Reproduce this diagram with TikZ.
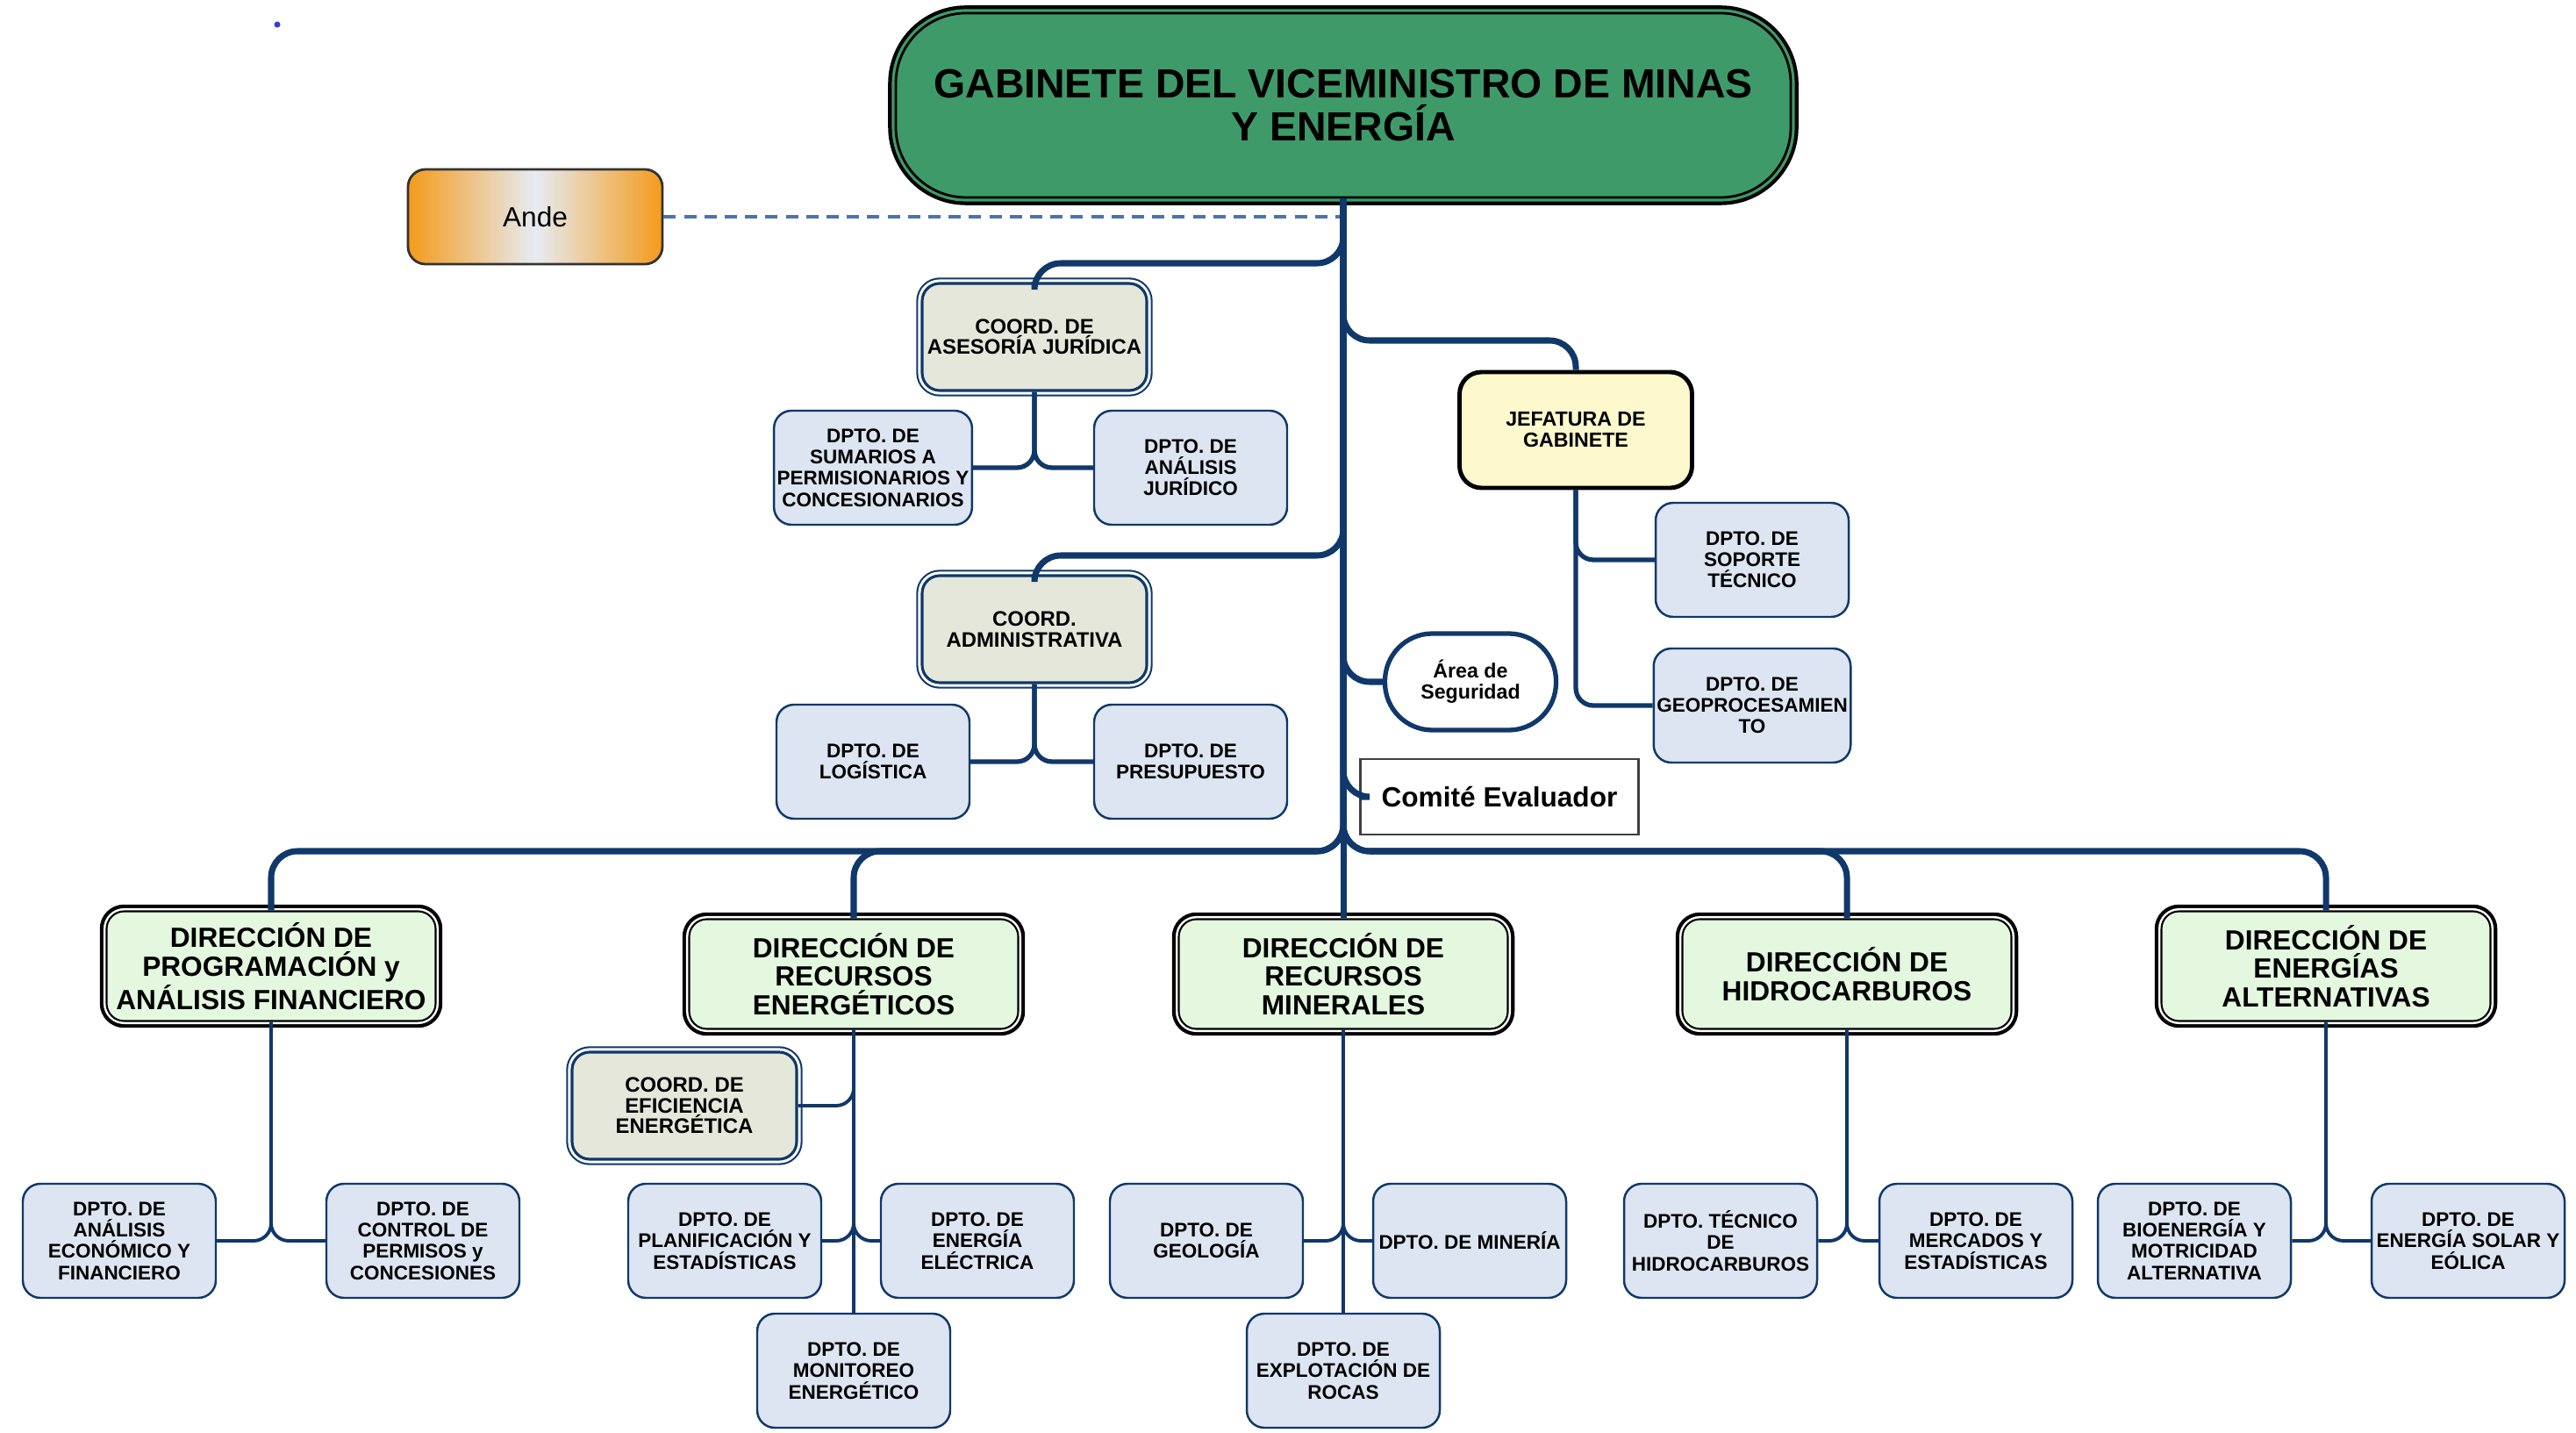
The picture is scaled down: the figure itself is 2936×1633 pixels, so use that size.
\documentclass[tikz,border=0pt]{standalone}
\usepackage{fontspec}
\setmainfont{Liberation Sans}
\definecolor{linenavy}{HTML}{10386A}
\definecolor{titlegreen}{HTML}{3F9A69}
\definecolor{dirfill}{HTML}{E3F8DF}
\definecolor{dptofill}{HTML}{DCE5F1}
\definecolor{coordfill}{HTML}{E5E7DA}
\definecolor{jeffill}{HTML}{FDF9CC}
\definecolor{andeorange}{HTML}{F49B1C}
\definecolor{andemid}{HTML}{E6ECF3}
\definecolor{dashblue}{HTML}{4C72AD}
\definecolor{dotblue}{HTML}{3A3AD8}
\begin{document}
\begin{tikzpicture}[x=0.1mm,y=-0.1mm]
    \tikzstyle{titlebox}=[rectangle, rounded corners=8mm, draw=black, line width=0.8pt, fill=titlegreen,
        minimum width=102mm, minimum height=21mm, align=center, font=\fontsize{13.2}{14}\selectfont\bfseries,
        preaction={draw=black, line width=5pt}, preaction={draw=titlegreen, line width=2.6pt}]
    \tikzstyle{dirbox}=[rectangle, rounded corners=2mm, draw=black, line width=0.6pt, fill=dirfill,
        minimum width=37.5mm, minimum height=12.5mm, inner sep=1pt, align=center, font=\fontsize{9}{9.3}\selectfont\bfseries,
        preaction={draw=black, line width=4.4pt}, preaction={draw=white, line width=2pt}]
    \tikzstyle{coordbox}=[rectangle, rounded corners=2mm, draw=linenavy, line width=0.9pt, fill=coordfill,
        minimum width=25.6mm, minimum height=12.2mm, inner sep=1pt, align=center, font=\fontsize{6.8}{6.7}\selectfont\bfseries,
        preaction={draw=linenavy, line width=3.8pt}, preaction={draw=white, line width=2.6pt}]
    \tikzstyle{dptobox}=[rectangle, rounded corners=2mm, draw=linenavy, line width=0.7pt, fill=dptofill,
        minimum width=22mm, minimum height=13mm, inner sep=1pt, align=center, font=\fontsize{6.4}{6.9}\selectfont\bfseries]
    \tikzstyle{jefebox}=[rectangle, rounded corners=2.5mm, draw=black, line width=1.4pt, fill=jeffill,
        minimum width=26.5mm, minimum height=13.2mm, align=center, font=\fontsize{6.6}{6.9}\selectfont\bfseries]
    \tikzstyle{segbox}=[rectangle, rounded corners=5.4mm, draw=linenavy, line width=1.5pt, fill=white,
        minimum width=19.5mm, minimum height=11mm, align=center, font=\fontsize{6.6}{6.9}\selectfont\bfseries]
    \tikzstyle{comitebox}=[rectangle, draw=black!75, line width=0.7pt, fill=white,
        minimum width=31.7mm, minimum height=8.6mm, align=center, font=\fontsize{9}{10}\selectfont\bfseries]
    \tikzstyle{andebox}=[rectangle, rounded corners=2mm, draw=black!80, line width=0.8pt,
        left color=andeorange, right color=andeorange, middle color=andemid,
        minimum width=29mm, minimum height=10.8mm, font=\fontsize{9}{10}\selectfont]
    \tikzstyle{mainline}=[draw=linenavy, line width=2pt, rounded corners=3mm]
    \tikzstyle{subline}=[draw=linenavy, line width=1.1pt, rounded corners=2mm]
    \tikzstyle{coordline}=[draw=linenavy, line width=1.5pt, rounded corners=2mm]
    \tikzstyle{dashline}=[draw=dashblue, line width=1.2pt, dash pattern=on 4pt off 2.6pt]

    \useasboundingbox (0,0) rectangle (2936,1633);
    \fill[dotblue] (316,28) circle[radius=0.35mm];

    \node[titlebox] (top) at (1531,120) {GABINETE DEL VICEMINISTRO DE MINAS\\Y ENERGÍA};
    \node[andebox] (ande) at (610,247) {Ande};

    \node[coordbox] (ajur) at (1179,384) {COORD. DE\\ASESORÍA JURÍDICA};
    \node[dptobox] (sumarios) at (995,533) {DPTO. DE\\SUMARIOS A\\PERMISIONARIOS Y\\CONCESIONARIOS};
    \node[dptobox] (anjur) at (1357,533) {DPTO. DE\\ANÁLISIS\\JURÍDICO};
    \node[coordbox] (cadm) at (1179,717) {COORD.\\ADMINISTRATIVA};
    \node[dptobox] (logis) at (995,868) {DPTO. DE\\LOGÍSTICA};
    \node[dptobox] (presu) at (1357,868) {DPTO. DE\\PRESUPUESTO};

    \node[jefebox] (jefe) at (1796,490) {JEFATURA DE\\GABINETE};
    \node[dptobox] (soporte) at (1997,638) {DPTO. DE\\SOPORTE\\TÉCNICO};
    \node[dptobox] (geo) at (1997,804) {DPTO. DE\\GEOPROCESAMIEN\\TO};
    \node[segbox] (seg) at (1676,777) {Área de\\Seguridad};
    \node[comitebox] (comite) at (1709,908) {Comité Evaluador};

    \node[dirbox] (d1) at (309,1101) {DIRECCIÓN DE\\PROGRAMACIÓN y\\ANÁLISIS FINANCIERO};
    \node[dirbox] (d2) at (973,1110) {DIRECCIÓN DE\\RECURSOS\\ENERGÉTICOS};
    \node[dirbox] (d3) at (1531,1110) {DIRECCIÓN DE\\RECURSOS\\MINERALES};
    \node[dirbox] (d4) at (2105,1110) {DIRECCIÓN DE\\HIDROCARBUROS};
    \node[dirbox] (d5) at (2651,1101) {DIRECCIÓN DE\\ENERGÍAS\\ALTERNATIVAS};

    \node[dptobox] (aeco) at (136,1414) {DPTO. DE\\ANÁLISIS\\ECONÓMICO Y\\FINANCIERO};
    \node[dptobox] (cperm) at (482,1414) {DPTO. DE\\CONTROL DE\\PERMISOS y\\CONCESIONES};
    \node[coordbox] (ceff) at (780,1260) {COORD. DE\\EFICIENCIA\\ENERGÉTICA};
    \node[dptobox] (plan) at (826,1414) {DPTO. DE\\PLANIFICACIÓN Y\\ESTADÍSTICAS};
    \node[dptobox] (elec) at (1114,1414) {DPTO. DE\\ENERGÍA\\ELÉCTRICA};
    \node[dptobox] (moni) at (973,1562) {DPTO. DE\\MONITOREO\\ENERGÉTICO};
    \node[dptobox] (geol) at (1375,1414) {DPTO. DE\\GEOLOGÍA};
    \node[dptobox] (mine) at (1675,1414) {DPTO. DE MINERÍA};
    \node[dptobox] (rocas) at (1531,1562) {DPTO. DE\\EXPLOTACIÓN DE\\ROCAS};
    \node[dptobox] (tech) at (1961,1414) {DPTO. TÉCNICO\\DE\\HIDROCARBUROS};
    \node[dptobox] (merc) at (2252,1414) {DPTO. DE\\MERCADOS Y\\ESTADÍSTICAS};
    \node[dptobox] (bio) at (2501,1414) {DPTO. DE\\BIOENERGÍA Y\\MOTRICIDAD\\ALTERNATIVA};
    \node[dptobox] (solar) at (2813,1414) {DPTO. DE\\ENERGÍA SOLAR Y\\EÓLICA};

    \coordinate (b1) at (1531,300);
    \coordinate (b2) at (1531,388);
    \coordinate (b3) at (1531,633);
    \coordinate (bus) at (1531,970);

    \draw[dashline] (ande.east) -- (ande.east -| top.south);

    \draw[mainline] (top.south) -- (d3.north);
    \draw[mainline] (top.south) |- (ajur.north |- b1) -- (ajur.north);
    \draw[mainline] (top.south) |- (jefe.north |- b2) -- (jefe.north);
    \draw[mainline] (top.south) |- (cadm.north |- b3) -- (cadm.north);
    \draw[mainline] (top.south) |- (seg.west);
    \draw[mainline] (top.south) |- (comite.west);
    \draw[mainline] (top.south) |- (d1.north |- bus) -- (d1.north);
    \draw[mainline] (top.south) |- (d2.north |- bus) -- (d2.north);
    \draw[mainline] (top.south) |- (d4.north |- bus) -- (d4.north);
    \draw[mainline] (top.south) |- (d5.north |- bus) -- (d5.north);

    \draw[coordline] (ajur.south) |- (sumarios.east);
    \draw[coordline] (ajur.south) |- (anjur.west);
    \draw[coordline] (cadm.south) |- (logis.east);
    \draw[coordline] (cadm.south) |- (presu.west);
    \draw[coordline] (jefe.south) |- (soporte.west);
    \draw[coordline] (jefe.south) |- (geo.west);

    \draw[subline] (d1.south) |- (aeco.east);
    \draw[subline] (d1.south) |- (cperm.west);
    \draw[subline] (d2.south) |- (ceff.east);
    \draw[subline] (d2.south) |- (plan.east);
    \draw[subline] (d2.south) |- (elec.west);
    \draw[subline] (d2.south) -- (moni.north);
    \draw[subline] (d3.south) |- (geol.east);
    \draw[subline] (d3.south) |- (mine.west);
    \draw[subline] (d3.south) -- (rocas.north);
    \draw[subline] (d4.south) |- (tech.east);
    \draw[subline] (d4.south) |- (merc.west);
    \draw[subline] (d5.south) |- (bio.east);
    \draw[subline] (d5.south) |- (solar.west);

\end{tikzpicture}
\end{document}
